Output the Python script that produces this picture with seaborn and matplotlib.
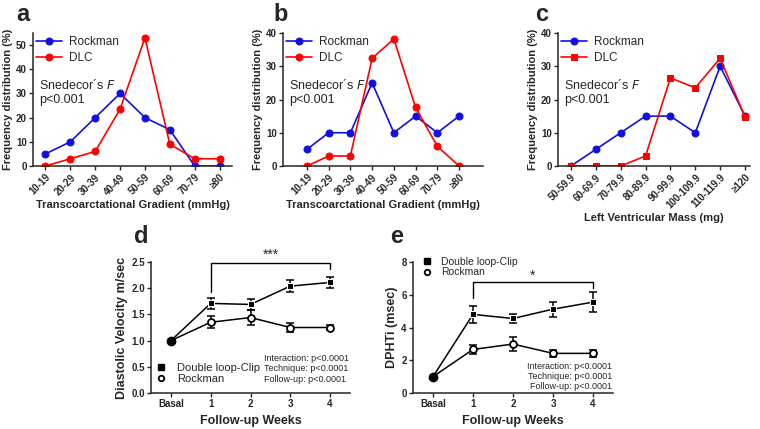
import numpy as np
import pandas as pd
import matplotlib
matplotlib.use("Agg")
import matplotlib.pyplot as plt
from matplotlib.lines import Line2D
import seaborn as sns

# Panel a/b: transcoarctational gradient bins
grad_bins = ["10-19", "20-29", "30-39", "40-49", "50-59", "60-69", "70-79", "≥80"]
a_rockman = [5, 10, 20, 30, 20, 15, 0, 0]
a_dlc = [0, 3, 6, 23.5, 53, 9, 3, 3]
b_rockman = [5, 10, 10, 25, 10, 15, 10, 15]
b_dlc = [0, 3, 3, 32.4, 38.2, 17.6, 5.9, 0]

# Panel c: left ventricular mass bins
mass_bins = ["50-59.9", "60-69.9", "70-79.9", "80-89.9", "90-99.9",
             "100-109.9", "110-119.9", "≥120"]
c_rockman = [0, 5, 10, 15, 15, 10, 30, 15]
c_dlc = [0, 0, 0, 3, 26.5, 23.5, 32.4, 14.7]

# Panels d/e: follow-up
weeks = ["Basal", "1", "2", "3", "4"]
d_dlc = [1.0, 1.71, 1.69, 2.04, 2.11]
d_dlc_err = [0, 0.10, 0.10, 0.11, 0.11]
d_rock = [1.0, 1.35, 1.44, 1.25, 1.25]
d_rock_err = [0, 0.11, 0.14, 0.08, 0.05]
e_dlc = [1.0, 4.8, 4.55, 5.12, 5.55]
e_dlc_err = [0, 0.54, 0.3, 0.45, 0.6]
e_rock = [1.0, 2.66, 2.99, 2.42, 2.42]
e_rock_err = [0, 0.25, 0.4, 0.2, 0.2]

BLUE = "#1010e0"
RED = "#ff0000"
W, H = 760, 429

sns.set_style("ticks")
plt.rcParams['font.family'] = ['Liberation Sans', 'DejaVu Sans']

fig = plt.figure(figsize=(7.6, 4.29), dpi=100)


def px_axes(x0, y0, x1, y1):
    return fig.add_axes([x0 / W, 1 - y1 / H, (x1 - x0) / W, (y1 - y0) / H])


def style_axes(ax):
    sns.despine(ax=ax)
    ax.tick_params(axis="both", direction="out", length=3, width=1, labelsize=7, pad=1.5)
    for s in ("left", "bottom"):
        ax.spines[s].set_linewidth(1.1)
    for lab in ax.get_yticklabels() + ax.get_xticklabels():
        lab.set_fontweight("bold")


def freq_panel(ax, bins, rock, dlc, ymax, yticks, xlim, xlabel, dlc_marker="o"):
    df = pd.DataFrame({"x": np.arange(len(bins)), "Rockman": rock, "DLC": dlc})
    sns.lineplot(data=df, x="x", y="Rockman", ax=ax, color=BLUE, marker="o",
                 markersize=5, markeredgecolor=BLUE, linewidth=1.2, label="Rockman")
    sns.lineplot(data=df, x="x", y="DLC", ax=ax, color=RED, marker=dlc_marker,
                 markersize=5, markeredgecolor=RED, linewidth=1.2, label="DLC")
    ax.set_xlim(*xlim)
    ax.set_ylim(0, ymax)
    ax.set_yticks(yticks)
    ax.set_xticks(np.arange(len(bins)))
    ax.set_xticklabels(bins, rotation=45, ha="right", rotation_mode="anchor")
    ax.set_ylabel("Frequency distribution (%)", fontsize=8, fontweight="bold", labelpad=2)
    ax.set_xlabel(xlabel, fontsize=8, fontweight="bold", labelpad=2)
    style_axes(ax)
    ax.legend(loc="upper left", bbox_to_anchor=(-0.02, 1.03), frameon=False,
              fontsize=8.5, handlelength=2.2, handletextpad=0.6, labelspacing=0.35,
              borderaxespad=0.2)
    ax.text(0.03, 0.66, "Snedecor´s $\\it{F}$\np<0.001", transform=ax.transAxes,
            fontsize=9, va="top", linespacing=1.15)


ax_a = px_axes(33, 33, 232, 166)
freq_panel(ax_a, grad_bins, a_rockman, a_dlc, 55, [0, 10, 20, 30, 40, 50],
           (-0.5, 7.5), "Transcoarctational Gradient (mmHg)")
ax_b = px_axes(283, 33, 483, 166)
freq_panel(ax_b, grad_bins, b_rockman, b_dlc, 40, [0, 10, 20, 30, 40],
           (-1.1, 8.1), "Transcoarctational Gradient (mmHg)")
ax_c = px_axes(558, 33, 750, 166)
freq_panel(ax_c, mass_bins, c_rockman, c_dlc, 40, [0, 10, 20, 30, 40],
           (-0.52, 7.2), "Left Ventricular Mass (mg)", dlc_marker="s")


def follow_panel(ax, dlc, dlc_err, rock, rock_err, ymax, yticks, ylabel):
    x = np.arange(len(weeks))
    df = pd.DataFrame({"x": x, "dlc": dlc, "rock": rock})
    ax.errorbar(x[1:], dlc[1:], yerr=dlc_err[1:], fmt="none", ecolor="black",
                elinewidth=1.1, capsize=3, capthick=1.1, zorder=2)
    ax.errorbar(x[1:], rock[1:], yerr=rock_err[1:], fmt="none", ecolor="black",
                elinewidth=1.1, capsize=3, capthick=1.1, zorder=2)
    sns.lineplot(data=df, x="x", y="dlc", ax=ax, color="black", marker="s",
                 markersize=5, linewidth=1.1, zorder=3)
    sns.lineplot(data=df, x="x", y="rock", ax=ax, color="black", marker="o",
                 markersize=5, markerfacecolor="white", markeredgecolor="black",
                 markeredgewidth=1.3, linewidth=1.1, zorder=3)
    ax.plot([0], [dlc[0]], "o", color="black", markersize=6, zorder=4)
    ax.set_xlim(-0.5, 4.5)
    ax.set_ylim(0, ymax)
    ax.set_yticks(yticks)
    ax.set_xticks(x)
    ax.set_xticklabels(weeks)
    ax.set_ylabel(ylabel, fontsize=9, fontweight="bold", labelpad=2)
    ax.set_xlabel("Follow-up Weeks", fontsize=9, fontweight="bold", labelpad=4)
    style_axes(ax)
    ax.tick_params(axis="x", length=3)


def legend_handles():
    return [Line2D([], [], marker="s", color="black", linestyle="none", markersize=4),
            Line2D([], [], marker="o", color="black", markerfacecolor="white",
                   markeredgewidth=1.3, linestyle="none", markersize=4)]


stats = "Interaction: p<0.0001\nTechnique: p<0.0001\nFollow-up: p<0.0001"

ax_d = px_axes(151, 262, 350, 393)
follow_panel(ax_d, d_dlc, d_dlc_err, d_rock, d_rock_err, 2.5,
             [0.0, 0.5, 1.0, 1.5, 2.0, 2.5], "Diastolic Velocity m/sec")
ax_d.set_yticklabels(["0.0", "0.5", "1.0", "1.5", "2.0", "2.5"], fontweight="bold")
ax_d.plot([1, 1, 4, 4], [1.93, 2.48, 2.48, 2.36], color="black", linewidth=1.0)
ax_d.text(2.5, 2.5, "***", ha="center", va="bottom", fontsize=10)
ax_d.text(0.57, 0.30, stats, transform=ax_d.transAxes, fontsize=6.5,
          va="top", ha="left", linespacing=1.2)
ax_d.legend(legend_handles(), ["Double loop-Clip", "Rockman"], loc="lower left",
            bbox_to_anchor=(-0.02, -0.01), frameon=False, fontsize=8,
            handlelength=0.8, handletextpad=1.0, labelspacing=0.1)

ax_e = px_axes(413, 262, 613, 393)
follow_panel(ax_e, e_dlc, e_dlc_err, e_rock, e_rock_err, 8,
             [0, 2, 4, 6, 8], "DPHTi (msec)")
ax_e.plot([1, 1, 4, 4], [5.8, 6.75, 6.75, 6.4], color="black", linewidth=1.0)
ax_e.text(2.5, 6.75, "*", ha="center", va="bottom", fontsize=10)
ax_e.text(0.995, 0.24, stats, transform=ax_e.transAxes, fontsize=6.5,
          va="top", ha="right", linespacing=1.2, multialignment="right")
ax_e.legend(legend_handles(), ["Double loop-Clip", "Rockman"], loc="upper left",
            bbox_to_anchor=(0.0, 1.11), frameon=False, fontsize=7.5,
            handlelength=0.8, handletextpad=1.0, labelspacing=0.05)

# Panel letters
for lab, x, y in [("a", 16, 21), ("b", 273, 21), ("c", 535, 21),
                  ("d", 134, 243), ("e", 390, 243)]:
    fig.text(x / W, 1 - y / H, lab, fontsize=17, fontweight="bold", va="baseline")

fig.savefig("out.png", dpi=100)
